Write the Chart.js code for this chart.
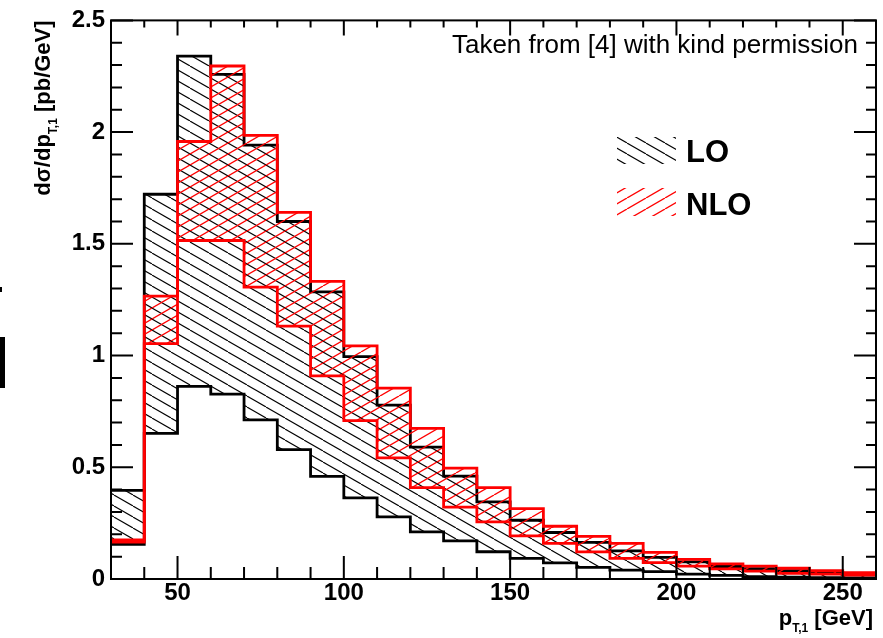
<!DOCTYPE html>
<html>
<head>
<meta charset="utf-8">
<script src="https://cdn.jsdelivr.net/npm/chart.js@4/dist/chart.umd.min.js"></script>
<style>
  html, body { margin: 0; padding: 0; background: #fff; }
</style>
</head>
<body>
<canvas id="chart" width="883" height="638"></canvas>
<script>
// bin edges of the pT,1 histogram (GeV), 10 GeV bins
const binEdges = [30, 40, 50, 60, 70, 80, 90, 100, 110, 120, 130, 140, 150, 160, 170, 180, 190, 200, 210, 220, 230, 240, 250, 260];

// LO band (lower / upper edge), pb/GeV, one value per bin
const loLow  = [0.155, 0.652, 0.862, 0.827, 0.712, 0.579, 0.459, 0.363, 0.278, 0.211, 0.171, 0.122, 0.092, 0.072, 0.052, 0.040, 0.033, 0.022, 0.016, 0.011, 0.008, 0.006, 0.005];
const loHigh = [0.397, 1.722, 2.340, 2.258, 1.942, 1.600, 1.285, 0.995, 0.778, 0.590, 0.460, 0.345, 0.263, 0.208, 0.164, 0.126, 0.097, 0.077, 0.056, 0.046, 0.037, 0.028, 0.022];

// NLO band (lower / upper edge)
const nloLow  = [0.165, 1.053, 1.515, 1.515, 1.306, 1.132, 0.909, 0.709, 0.542, 0.409, 0.322, 0.256, 0.193, 0.159, 0.121, 0.092, 0.073, 0.058, 0.045, 0.035, 0.025, 0.022, 0.017];
const nloHigh = [0.175, 1.266, 1.958, 2.296, 1.985, 1.641, 1.332, 1.043, 0.854, 0.674, 0.496, 0.409, 0.315, 0.236, 0.191, 0.159, 0.119, 0.088, 0.068, 0.058, 0.048, 0.037, 0.028];

const xTicks = [50, 100, 150, 200, 250];
const yTicks = [0, 0.5, 1, 1.5, 2, 2.5];

const FONT = "'Liberation Sans', Arial, Helvetica, sans-serif";
const RED = '#ff0000';

// hatch pattern, dir 1 = '/', dir -1 = '\'
function hatch(color, dir, width) {
    const w = 19, h = 11;
    const c = document.createElement('canvas');
    c.width = w; c.height = h;
    const g = c.getContext('2d');
    g.strokeStyle = color;
    g.lineWidth = width;
    for (const dx of [-w, 0, w]) {
        g.beginPath();
        if (dir > 0) { g.moveTo(dx, h); g.lineTo(dx + w, 0); }
        else { g.moveTo(dx, 0); g.lineTo(dx + w, h); }
        g.stroke();
    }
    return g.createPattern(c, 'repeat');
}
const loHatch = hatch('#000', -1, 1.1);
const nloHatch = hatch(RED, 1, 1.3);

// histogram values -> step points at bin edges (last value repeated at the right edge)
const steps = (vals) => binEdges.map((x, i) => ({ x: x, y: vals[Math.min(i, vals.length - 1)] }));

const lineBase = { stepped: 'before', pointRadius: 0, borderWidth: 2.8, tension: 0 };

// draws a label part list: [text, font, dy]
function drawParts(ctx, parts, x0, y0) {
    let x = x0;
    for (const p of parts) {
        ctx.font = p[1];
        ctx.fillText(p[0], x, y0 + p[2]);
        x += ctx.measureText(p[0]).width;
    }
}
function partsWidth(ctx, parts) {
    let w = 0;
    for (const p of parts) { ctx.font = p[1]; w += ctx.measureText(p[0]).width; }
    return w;
}

const decorations = {
    id: 'decorations',
    afterDatasetsDraw(chart) {
        const { ctx, chartArea: a, scales: { x, y } } = chart;
        ctx.save();

        // ROOT style inner ticks
        ctx.strokeStyle = '#000';
        ctx.lineWidth = 2;
        ctx.beginPath();
        for (let v = 30; v <= 260; v += 10) {
            const px = x.getPixelForValue(v);
            const major = v % 50 === 0;
            ctx.moveTo(px, a.bottom); ctx.lineTo(px, a.bottom - (major ? 23 : 12));
            ctx.moveTo(px, a.top); ctx.lineTo(px, a.top + (major ? 15 : 7));
        }
        for (let i = 0; i <= 25; i++) {
            const py = y.getPixelForValue(i / 10);
            const major = i % 5 === 0;
            ctx.moveTo(a.left, py); ctx.lineTo(a.left + (major ? 22 : 11), py);
            ctx.moveTo(a.right, py); ctx.lineTo(a.right - (major ? 22 : 10), py);
        }
        ctx.stroke();
        ctx.strokeRect(a.left, a.top, a.right - a.left, a.bottom - a.top);

        ctx.fillStyle = '#000';
        ctx.textBaseline = 'alphabetic';

        // note in the top right corner
        ctx.font = '26px ' + FONT;
        ctx.textAlign = 'right';
        ctx.fillText('Taken from [4] with kind permission', 858, 53);

        // legend
        ctx.fillStyle = loHatch;
        ctx.fillRect(617, 137, 59, 27);
        ctx.fillStyle = nloHatch;
        ctx.fillRect(617, 188, 59, 28);
        ctx.fillStyle = '#000';
        ctx.textAlign = 'left';
        ctx.font = 'bold 31px ' + FONT;
        ctx.fillText('LO', 686, 162);
        ctx.fillText('NLO', 686, 215);

        // axis titles
        const big = 'bold 22px ' + FONT, small = 'bold 12px ' + FONT;
        const xTitle = [['p', big, 0], ['T,1', small, 7], [' [GeV]', big, 0]];
        drawParts(ctx, xTitle, 873 - partsWidth(ctx, xTitle), 625);

        const yTitle = [['d\u03c3/dp', big, 0], ['T,1', small, 7], [' [pb/GeV]', big, 0]];
        ctx.translate(50, a.top);
        ctx.rotate(-Math.PI / 2);
        drawParts(ctx, yTitle, -partsWidth(ctx, yTitle), 0);
        ctx.restore();

        // clipped leftover marks at the left edge of the original figure
        ctx.fillStyle = '#000';
        ctx.fillRect(0, 287, 2, 5);
        ctx.fillRect(0, 337, 5, 51);
    }
};

new Chart(document.getElementById('chart').getContext('2d'), {
    type: 'line',
    data: {
        datasets: [
            { ...lineBase, label: 'NLO low', data: steps(nloLow), borderColor: RED, fill: false },
            { ...lineBase, label: 'NLO', data: steps(nloHigh), borderColor: RED, backgroundColor: nloHatch, fill: '-1' },
            { ...lineBase, label: 'LO low', data: steps(loLow), borderColor: '#000', fill: false },
            { ...lineBase, label: 'LO', data: steps(loHigh), borderColor: '#000', backgroundColor: loHatch, fill: '-1' }
        ]
    },
    options: {
        responsive: false,
        animation: false,
        layout: { padding: { top: 18, right: 7, left: 0, bottom: 0 } },
        plugins: {
            legend: { display: false },
            tooltip: { enabled: false },
            filler: { propagate: false }
        },
        scales: {
            x: {
                type: 'linear',
                min: 30,
                max: 260,
                grid: { display: false, drawTicks: false },
                border: { display: false },
                afterBuildTicks: (s) => { s.ticks = xTicks.map(v => ({ value: v })); },
                afterFit: (s) => { s.height = 59; },
                ticks: { autoSkip: false, maxRotation: 0, padding: 0, color: '#000',
                         font: { family: FONT, size: 24, weight: 'bold' } }
            },
            y: {
                min: 0,
                max: 2.5,
                grid: { display: false, drawTicks: false },
                border: { display: false },
                afterBuildTicks: (s) => { s.ticks = yTicks.map(v => ({ value: v })); },
                afterFit: (s) => { s.width = 111; },
                ticks: { padding: 6, color: '#000', callback: (v) => String(v),
                         font: { family: FONT, size: 24, weight: 'bold' } }
            }
        }
    },
    plugins: [decorations]
});
</script>
</body>
</html>
